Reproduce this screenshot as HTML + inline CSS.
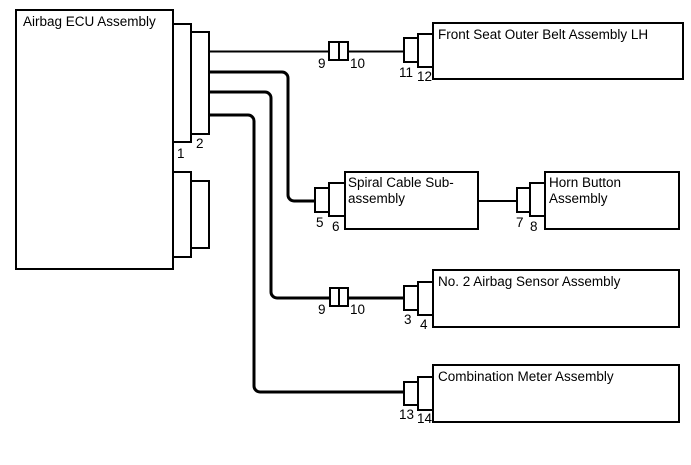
<!DOCTYPE html>
<html><head><style>
html,body{margin:0;padding:0;background:#fff;}
svg{display:block;}
text{font-family:"Liberation Sans",Arial,sans-serif;font-size:13.5px;fill:#000;}
</style></head><body>
<svg width="691" height="465" viewBox="0 0 691 465" xmlns="http://www.w3.org/2000/svg">
<g fill="none" stroke="#000">
<path d="M209 51.5H329 M348 51.5H404" stroke-width="2"/>
<path d="M209 72H282a6 6 0 0 1 6 6V195a6 6 0 0 0 6 6H315" stroke-width="3"/>
<path d="M478 201H517" stroke-width="2"/>
<path d="M209 92H265a6 6 0 0 1 6 6V292a6 6 0 0 0 6 6H330 M348 298H404" stroke-width="3"/>
<path d="M209 115H248a6 6 0 0 1 6 6V386a6 6 0 0 0 6 6H404" stroke-width="3"/>
<g stroke-width="2">
<rect x="16" y="10" width="157" height="259"/>
<rect x="173" y="24" width="18" height="118"/>
<rect x="191" y="32" width="18" height="102"/>
<rect x="173" y="172" width="18" height="85"/>
<rect x="191" y="181" width="18" height="67"/>
<rect x="329" y="42" width="19" height="18"/><path d="M339 42V60"/>
<rect x="404" y="38" width="14" height="24"/>
<rect x="418" y="34" width="15" height="33"/>
<rect x="433" y="23" width="250" height="56"/>
<rect x="315" y="188" width="14" height="24"/>
<rect x="329" y="183" width="16" height="33"/>
<rect x="345" y="172" width="133" height="57"/>
<rect x="517" y="188" width="13" height="24"/>
<rect x="530" y="183" width="15" height="33"/>
<rect x="545" y="172" width="134" height="57"/>
<rect x="330" y="288" width="18" height="18"/><path d="M339 288V306"/>
<rect x="404" y="286" width="14" height="24"/>
<rect x="418" y="282" width="15" height="33"/>
<rect x="433" y="270" width="246" height="57"/>
<rect x="404" y="382" width="14" height="23"/>
<rect x="418" y="377" width="15" height="33"/>
<rect x="433" y="365" width="246" height="57"/>
</g>
</g>
<text x="23" y="26">Airbag ECU Assembly</text>
<text x="177" y="158">1</text>
<text x="196" y="148">2</text>
<text x="318" y="68">9</text>
<text x="350" y="68">10</text>
<text x="399" y="77">11</text>
<text x="417" y="81">12</text>
<text x="438" y="39">Front Seat Outer Belt Assembly LH</text>
<text x="316" y="227">5</text>
<text x="332" y="231">6</text>
<text x="348" y="187">Spiral Cable Sub-</text>
<text x="348" y="203">assembly</text>
<text x="516" y="227">7</text>
<text x="530" y="231">8</text>
<text x="549" y="187">Horn Button</text>
<text x="549" y="203">Assembly</text>
<text x="318" y="314">9</text>
<text x="350" y="314">10</text>
<text x="404" y="324">3</text>
<text x="420" y="329">4</text>
<text x="438" y="286">No. 2 Airbag Sensor Assembly</text>
<text x="399" y="419">13</text>
<text x="417" y="423">14</text>
<text x="438" y="381">Combination Meter Assembly</text>
</svg>
</body></html>
